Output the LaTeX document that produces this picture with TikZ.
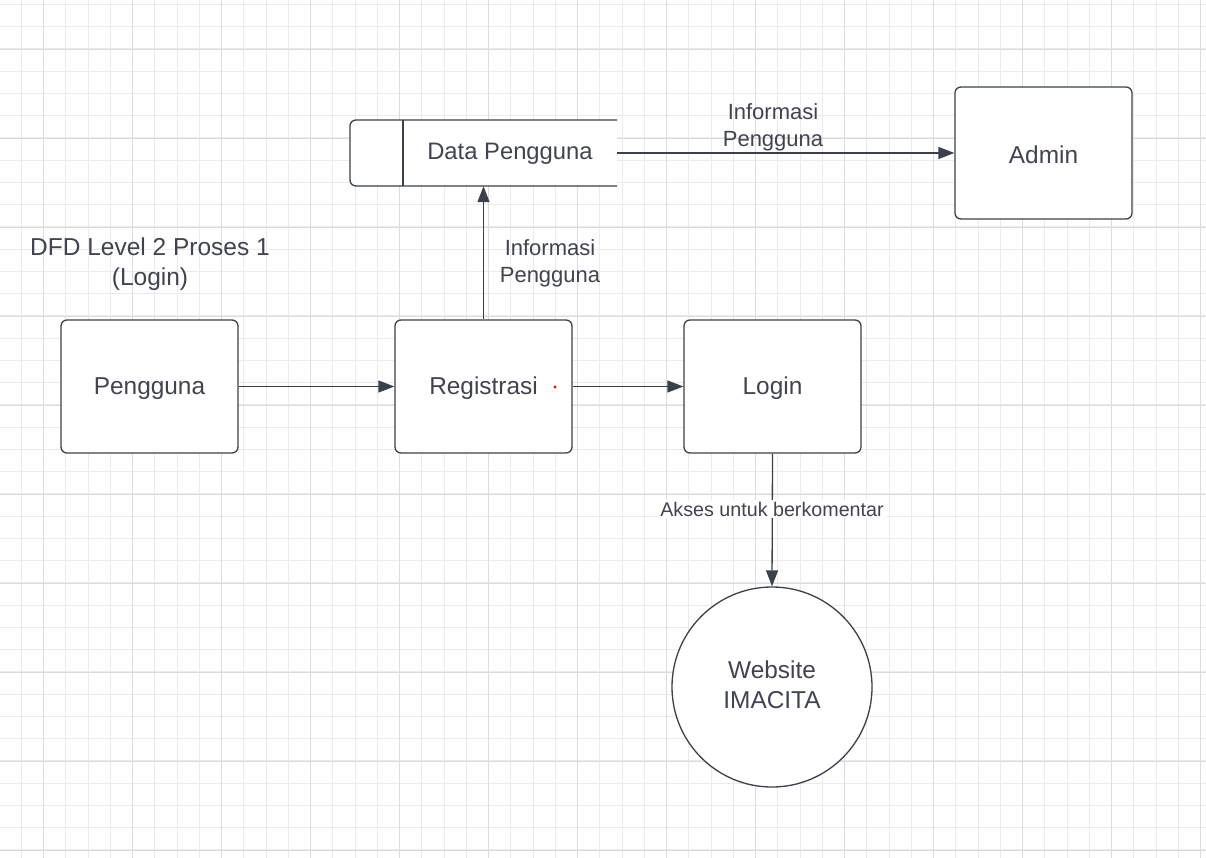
\documentclass[tikz,border=0pt]{standalone}
\usepackage{fontspec}
\setmainfont{Liberation Sans}
\usetikzlibrary{arrows.meta}
\definecolor{txt}{HTML}{3F4450}
\definecolor{ln}{HTML}{3A414A}
\definecolor{gminor}{HTML}{EBEBEB}
\definecolor{gmajor}{HTML}{DCDCDC}
\begin{document}
\begin{tikzpicture}[x=1pt,y=-1pt,
  gridminor/.style={draw=gminor,line width=1pt},
  gridmajor/.style={draw=gmajor,line width=1.2pt},
  box/.style={draw=ln,line width=1.3pt,rounded corners=6pt,minimum width=177pt,minimum height=133pt,inner sep=0pt},
  boxtext/.style={text=txt,font=\fontsize{24.4}{29}\selectfont,inner sep=0pt},
  lbl/.style={text=txt,font=\fontsize{22}{27}\selectfont,align=center,inner sep=0pt},
  flow/.style={draw=ln,line width=1.3pt,-{Triangle[length=16pt,width=12pt]}}]
\useasboundingbox (0,0) rectangle (1206,858);
\fill[white] (0,0) rectangle (1206,858);
% grid
\foreach \i in {1,...,54} \draw[gridminor] ({-0.95+22.25*\i},0) -- ({-0.95+22.25*\i},858);
\foreach \j in {0,...,38} \draw[gridminor] (0,{4.3+22.25*\j}) -- (1206,{4.3+22.25*\j});
\foreach \i in {0,...,13} \draw[gridmajor] ({43.3+89*\i},0) -- ({43.3+89*\i},858);
\foreach \j in {0,...,9} \draw[gridmajor] (0,{49.3+89*\j}) -- (1206,{49.3+89*\j});
% data store
\node[minimum width=267pt,minimum height=66pt,inner sep=0pt] (ds) at (483.5,153) {};
\fill[white,rounded corners=6pt] (617,120) -- (350,120) -- (350,186) -- (617,186) -- cycle;
\draw[ln,line width=1.3pt,rounded corners=6pt] (617,120) -- (350,120) -- (350,186) -- (617,186);
\draw[ln,line width=1.3pt] (403,120) -- (403,186);
\node[text=txt,font=\fontsize{23.8}{28}\selectfont,inner sep=0pt] (dstext) at (510,153.5) {Data Pengguna};
% boxes
\node[box,fill=white] (admin) at (1043.5,153) [minimum height=132pt] {};
\node[boxtext] (admintext) at (1043.5,155) {Admin};
\node[box,fill=white] (peng) at (149.5,386.5) {};
\node[boxtext] (pengtext) at (149.5,388.5) {Pengguna};
\node[box,fill=white] (reg) at (483.5,386.5) {};
\node[boxtext] (regtext) at (483.5,388.5) {Registrasi};
\node[box,fill=white] (login) at (772.5,386.5) {};
\node[boxtext] (logintext) at (772.5,388.5) {Login};
\node[draw=ln,line width=1.3pt,circle,minimum size=200pt,fill=white] (web) at (772,687) {};
\node[boxtext,font=\fontsize{24.4}{30}\selectfont,align=center] (webtext) at (772,684.5) {Website\\IMACITA};
\fill[red] (555,387) circle (1.7);
% title
\node[lbl,font=\fontsize{24.5}{30}\selectfont] (title) at (150,264.5) {DFD Level 2 Proses 1\\(Login)};
% flows
\draw[flow] (peng.east) -- (reg.west);
\draw[flow] (reg.east) -- (login.west);
\draw[flow] (reg.north) -- (ds.south);
\draw[flow] (ds.east) -- (admin.west);
\draw[flow] (login.south) -- (web.north);
% labels
\node[lbl] (l1) at (773,127) {Informasi\\Pengguna};
\node[lbl] (l2) at (550,263.5) {Informasi\\Pengguna};
\node[text=txt,font=\fontsize{19.7}{24}\selectfont,fill=white,inner sep=2pt] (l3) at (772,509) {Akses untuk berkomentar};
\end{tikzpicture}
\end{document}
